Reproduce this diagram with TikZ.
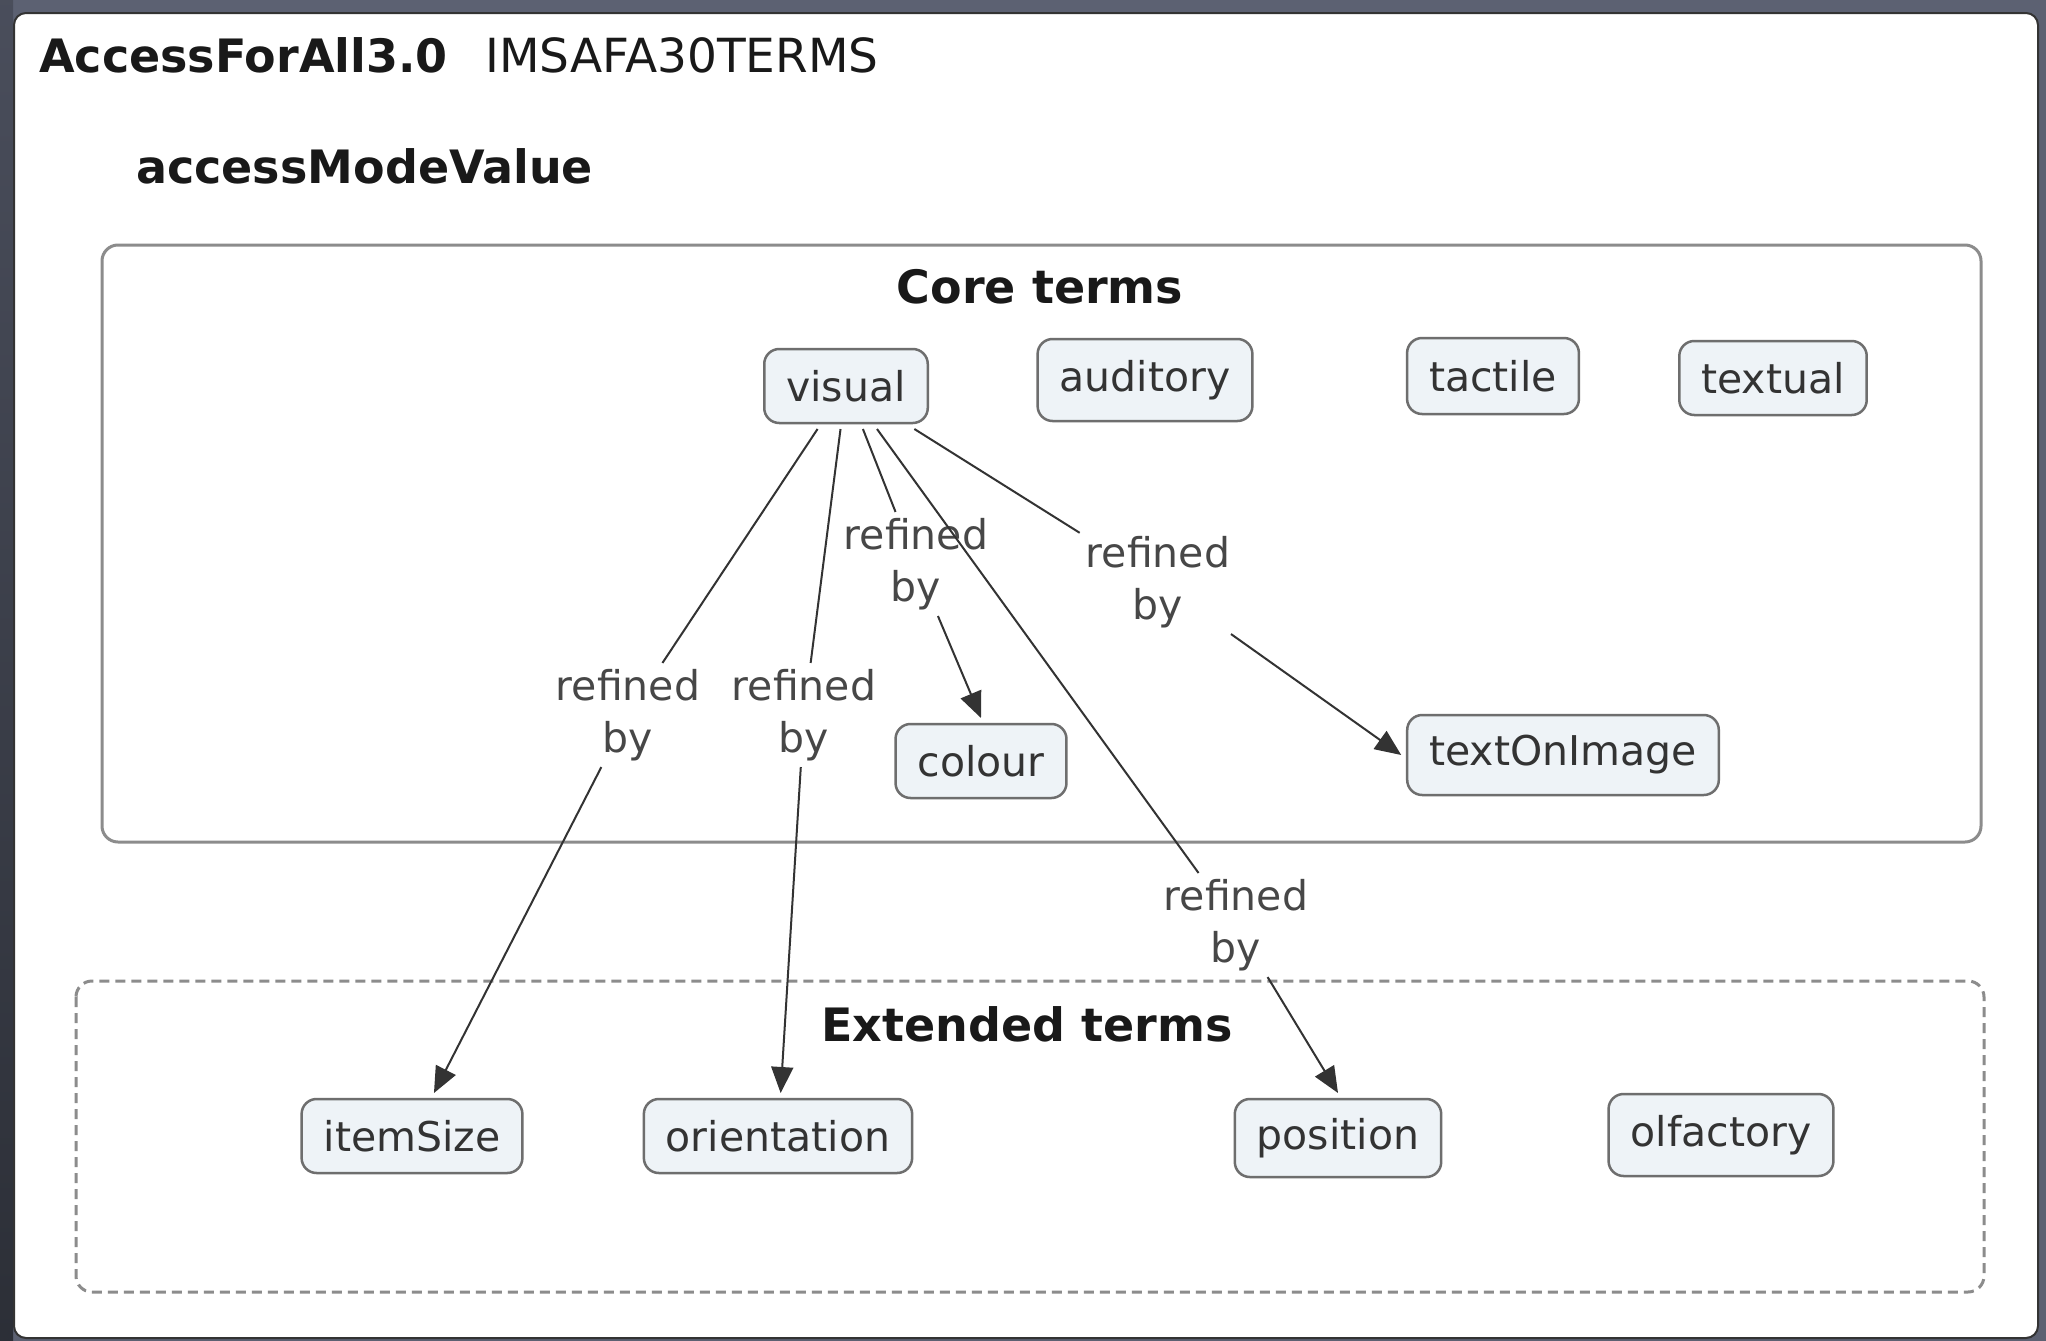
\documentclass[tikz,border=0pt]{standalone}
\usepackage{fontspec}
\setmainfont{DejaVu Sans}
\usepackage{tikz}
\usetikzlibrary{arrows.meta}

\definecolor{bgtop}{HTML}{5C6172}
\definecolor{bgleft}{HTML}{2C2F37}
\definecolor{termfill}{HTML}{EEF3F7}
\definecolor{termline}{HTML}{6E6E6E}
\definecolor{boxline}{HTML}{8C8C8C}
\definecolor{txt}{HTML}{333333}

\begin{document}
\begin{tikzpicture}[x=1pt,y=-1pt,
    term/.style={draw=termline,line width=2.5pt,fill=termfill,rounded corners=15pt,
        minimum height=74pt,inner xsep=22pt,outer sep=6pt,text=txt,
        font=\fontsize{41}{49}\selectfont},
    rel/.style={align=center,inner sep=6pt,text=txt!90,font=\fontsize{41}{52}\selectfont},
    link/.style={draw=txt,line width=2pt},
    arr/.style={link,-{Triangle[length=26pt,width=22pt]}},
    head/.style={inner sep=0,text=black!90,font=\fontsize{46}{55}\selectfont\bfseries}]

    % window
    \fill[bgtop] (0,0) rectangle (2046,1341);
    \shade[top color=bgtop!80!black,bottom color=bgleft] (0,0) rectangle (13,1341);
    \draw[fill=white,draw=black!80,line width=2pt,rounded corners=12pt] (14,13) rectangle (2038,1338);

    % titles
    \node[head,anchor=west] (afa) at (39,55) {AccessForAll3.0};
    \node[head,anchor=west,font=\fontsize{47}{55}\selectfont] (ims) at (485,55) {IMSAFA30TERMS};
    \node[head,anchor=west] (amv) at (136,166) {accessModeValue};

    % groups
    \draw[boxline,line width=3pt,rounded corners=16pt] (102,245) rectangle (1981,842);
    \node[head] (core) at (1040,287) {Core terms};
    \draw[boxline,line width=3pt,dash pattern=on 10pt off 6pt,rounded corners=16pt] (76,981) rectangle (1984,1292);
    \node[head] (ext) at (1027,1024) {Extended terms};

    % terms
    \node[term] (visual) at (846,386) {visual};
    \node[term,minimum height=82pt] (auditory) at (1145,380) {auditory};
    \node[term,minimum height=76pt] (tactile) at (1493,376) {tactile};
    \node[term] (textual) at (1773,378) {textual};
    \node[term] (colour) at (981,761) {colour};
    \node[term,minimum height=80pt] (textOnImage) at (1563,755) {textOnImage};
    \node[term] (itemSize) at (412,1136) {itemSize};
    \node[term] (orientation) at (778,1136) {orientation};
    \node[term,minimum height=78pt] (position) at (1338,1138) {position};
    \node[term,minimum height=82pt] (olfactory) at (1721,1135) {olfactory};

    % links
    \node[rel] (r1) at (628,715) {refined\\by};
    \node[rel] (r2) at (804,715) {refined\\by};
    \node[rel] (r3) at (916,564) {refined\\by};
    \node[rel] (r4) at (1158,582) {refined\\by};
    \node[rel] (r5) at (1236,925) {refined\\by};
    \draw[link] (visual) -- (r1);
    \draw[arr] (r1) -- (itemSize);
    \draw[link] (visual) -- (r2);
    \draw[arr] (r2) -- (orientation);
    \draw[link] (visual) -- (r3);
    \draw[arr] (r3) -- (colour.north);
    \draw[link] (visual) -- (r4);
    \draw[arr] (r4) -- (textOnImage.west);
    \draw[link] (visual) -- (r5);
    \draw[arr] (r5) -- (position.north);
\end{tikzpicture}
\end{document}
